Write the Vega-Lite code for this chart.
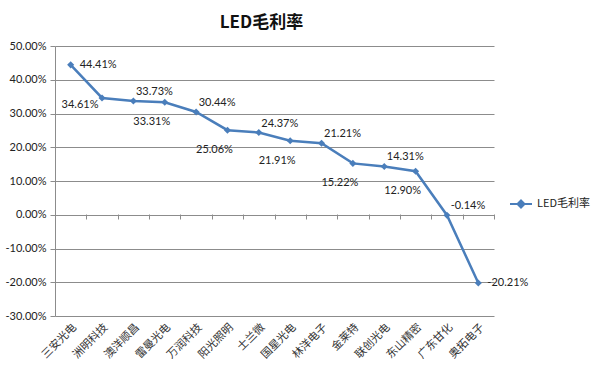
{
  "$schema": "https://vega.github.io/schema/vega-lite/v6.json",
  "autosize": {"type": "none"},
  "width": 439,
  "height": 270,
  "padding": {"left": 55, "top": 46, "right": 106, "bottom": 61},
  "background": "white",
  "title": {"text": "LED毛利率", "font": "Noto Sans CJK SC", "fontSize": 17, "fontWeight": "bold", "color": "#111", "offset": 8, "dx": -13},
  "config": {
    "view": {"stroke": null},
    "locale": {"number": {"decimal": ".", "thousands": ",", "grouping": [3], "currency": ["$", ""], "minus": "-"}},
    "axis": {"labelFont": "Lato", "labelColor": "#222", "gridColor": "#8c8c8c", "domainColor": "#8c8c8c", "tickColor": "#8c8c8c"},
    "axisY": {"labelOverlap": false, "tickCount": 8}
  },
  "data": {"values": [
    {"company": "三安光电", "value": 0.4441, "series": "LED毛利率"},
    {"company": "洲明科技", "value": 0.3461, "series": "LED毛利率"},
    {"company": "澳洋顺昌", "value": 0.3373, "series": "LED毛利率"},
    {"company": "雷曼光电", "value": 0.3331, "series": "LED毛利率"},
    {"company": "万润科技", "value": 0.3044, "series": "LED毛利率"},
    {"company": "阳光照明", "value": 0.2506, "series": "LED毛利率"},
    {"company": "士兰微", "value": 0.2437, "series": "LED毛利率"},
    {"company": "国星光电", "value": 0.2191, "series": "LED毛利率"},
    {"company": "林洋电子", "value": 0.2121, "series": "LED毛利率"},
    {"company": "金莱特", "value": 0.1522, "series": "LED毛利率"},
    {"company": "联创光电", "value": 0.1431, "series": "LED毛利率"},
    {"company": "东山精密", "value": 0.1290, "series": "LED毛利率"},
    {"company": "广东甘化", "value": -0.0014, "series": "LED毛利率"},
    {"company": "奥拓电子", "value": -0.2021, "series": "LED毛利率"}
  ]},
  "resolve": {"axis": {"x": "independent"}},
  "layer": [
    {
      "mark": {"type": "line", "strokeWidth": 2.5},
      "encoding": {
        "x": {"field": "company", "type": "nominal", "sort": null, "scale": {"paddingInner": 0, "paddingOuter": 0},
              "axis": {"title": null, "orient": "bottom", "labels": false, "domain": false, "ticks": true, "tickBand": "extent", "tickSize": 5, "offset": -102, "grid": false}},
        "y": {"field": "value", "type": "quantitative", "scale": {"domain": [-0.3, 0.5], "nice": false, "zero": false},
              "axis": {"title": null, "format": ".2%", "tickCount": 8, "labelOverlap": false, "domain": true, "domainWidth": 1, "tickSize": 5, "labelPadding": 4, "labelFontSize": 11, "grid": true}},
        "color": {"field": "series", "type": "nominal", "scale": {"range": ["#4a7ebb"]},
                  "legend": {"title": null, "orient": "none", "legendX": 454, "legendY": 146, "labelFont": "Noto Sans CJK SC", "labelFontSize": 11, "labelColor": "#222",
                             "symbolType": "M-1,0L1,0M0,-0.32L0.32,0L0,0.32L-0.32,0Z", "symbolSize": 484, "symbolStrokeWidth": 2, "symbolFillColor": "#4a7ebb", "symbolStrokeColor": "#4a7ebb", "labelOffset": 4}}
      }
    },
    {
      "mark": {"type": "point", "shape": "diamond", "filled": true, "size": 50, "opacity": 1},
      "encoding": {
        "x": {"field": "company", "type": "nominal", "sort": null,
              "axis": {"title": null, "orient": "bottom", "domain": false, "ticks": false, "grid": false, "labelAngle": -45, "labelFont": "Noto Sans CJK SC", "labelFontSize": 11, "labelColor": "#333", "labelPadding": 5}},
        "y": {"field": "value", "type": "quantitative"},
        "color": {"field": "series", "type": "nominal"}
      }
    },
    {
      "transform": [{"filter": {"field": "company", "oneOf": ["三安光电", "奥拓电子"]}}],
      "mark": {"type": "text", "align": "left", "baseline": "middle", "dx": 9, "font": "Lato", "fontSize": 11, "color": "#222"},
      "encoding": {
        "x": {"field": "company", "type": "nominal", "sort": null, "axis": null},
        "y": {"field": "value", "type": "quantitative"},
        "text": {"field": "value", "type": "quantitative", "format": ".2%"}
      }
    },
    {
      "transform": [{"filter": {"field": "company", "oneOf": ["澳洋顺昌", "万润科技", "士兰微", "林洋电子", "联创光电", "广东甘化"]}}],
      "mark": {"type": "text", "align": "center", "baseline": "middle", "dx": 21, "dy": -9, "font": "Lato", "fontSize": 11, "color": "#222"},
      "encoding": {
        "x": {"field": "company", "type": "nominal", "sort": null, "axis": null},
        "y": {"field": "value", "type": "quantitative"},
        "text": {"field": "value", "type": "quantitative", "format": ".2%"}
      }
    },
    {
      "transform": [{"filter": {"field": "company", "oneOf": ["雷曼光电", "阳光照明", "国星光电", "金莱特", "东山精密"]}}],
      "mark": {"type": "text", "align": "center", "baseline": "middle", "dx": -13, "dy": 20, "font": "Lato", "fontSize": 11, "color": "#222"},
      "encoding": {
        "x": {"field": "company", "type": "nominal", "sort": null, "axis": null},
        "y": {"field": "value", "type": "quantitative"},
        "text": {"field": "value", "type": "quantitative", "format": ".2%"}
      }
    },
    {
      "transform": [{"filter": {"field": "company", "oneOf": ["洲明科技"]}}],
      "mark": {"type": "text", "align": "center", "baseline": "middle", "dx": -22, "dy": 7, "font": "Lato", "fontSize": 11, "color": "#222"},
      "encoding": {
        "x": {"field": "company", "type": "nominal", "sort": null, "axis": null},
        "y": {"field": "value", "type": "quantitative"},
        "text": {"field": "value", "type": "quantitative", "format": ".2%"}
      }
    }
  ]
}
